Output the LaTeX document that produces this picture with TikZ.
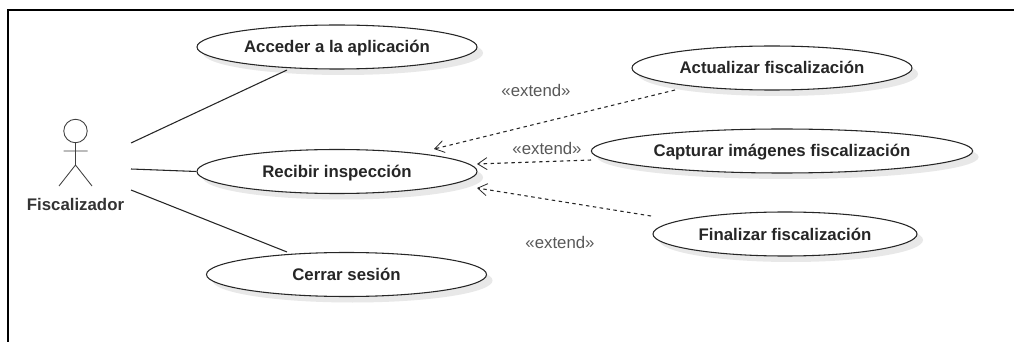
\documentclass[tikz,border=0pt]{standalone}
\usepackage{fontspec}
\setmainfont{Liberation Sans}
\usetikzlibrary{arrows.meta,shadows,shapes.geometric}
\tikzset{
  x=0.75pt,y=-0.75pt,
  usecase/.style={ellipse,draw=black!85,line width=0.8pt,fill=white,inner sep=0pt,
    text height=11.5pt,text depth=2.5pt,
    font=\fontsize{12.6pt}{14pt}\selectfont\bfseries,text=black!85,
    general shadow={shadow xshift=4.5pt,shadow yshift=-4.5pt,fill=black!9}},
  assoc/.style={draw=black!85,line width=0.8pt},
  ext/.style={draw=black!85,line width=0.8pt,dash pattern=on 2.6pt off 2.6pt,-{Straight Barb[length=7pt,width=9pt,line width=0.6pt]}},
  lbl/.style={font=\fontsize{12.6pt}{14pt}\selectfont,text=black!65},
  actorline/.style={draw=black!75,line width=0.65pt}
}
\begin{document}
\begin{tikzpicture}
\useasboundingbox (0,0) rectangle (1014,342);
\fill[white] (0,0) rectangle (1014,342);
\draw[black,line width=1.5pt] (7.5,342) -- (7.5,10.5) -- (1014,10.5);
\node[usecase,minimum width=210pt,minimum height=33pt] (a) at (337,47) {Acceder a la aplicación};
\node[usecase,minimum width=210pt,minimum height=33pt] (r) at (337,171.5) {Recibir inspección};
\node[usecase,minimum width=210pt,minimum height=33pt] (c) at (346.5,274.5) {Cerrar sesión};
\node[usecase,minimum width=210pt,minimum height=33pt] (u) at (772,68) {Actualizar fiscalización};
\node[usecase,minimum width=286pt,minimum height=33pt] (k) at (782,151) {Capturar imágenes fiscalización};
\node[usecase,minimum width=198pt,minimum height=33pt] (f) at (785,234) {Finalizar fiscalización};
% actor
\node[circle,actorline,fill=white,minimum size=17.6pt,inner sep=0pt] (head) at (75.5,131) {};
\coordinate (hip) at (75.5,165);
\coordinate (al) at (63.5,151); \coordinate (ar) at (87.5,151);
\coordinate (ll) at (59,186); \coordinate (lr) at (92,186);
\draw[actorline] (head.south) -- (hip) (al) -- (ar) (ll) -- (hip) -- (lr);
\node[font=\fontsize{12.6pt}{14pt}\selectfont\bfseries,text=black!80] (name) at (75.5,204.5) {Fiscalizador};
% associations
\coordinate (p1) at (131,143); \coordinate (p2) at (131,169); \coordinate (p3) at (131,190);
\coordinate (a1) at (287,70); \coordinate (c1) at (287,252);
\draw[assoc] (p1) -- (a1);
\draw[assoc] (p2) -- (r.west);
\draw[assoc] (p3) -- (c1);
% extends
\coordinate (t1) at (434,149); \coordinate (t2) at (477,164); \coordinate (t3) at (477,188);
\coordinate (s1) at (675,90); \coordinate (s2) at (591,160); \coordinate (s3) at (651,216);
\draw[ext] (s1) -- (t1);
\draw[ext] (s2) -- (t2);
\draw[ext] (s3) -- (t3);
\node[lbl] (e1) at (536,90) {«extend»};
\node[lbl] (e2) at (547,148) {«extend»};
\node[lbl] (e3) at (560,242) {«extend»};
\end{tikzpicture}
\end{document}
